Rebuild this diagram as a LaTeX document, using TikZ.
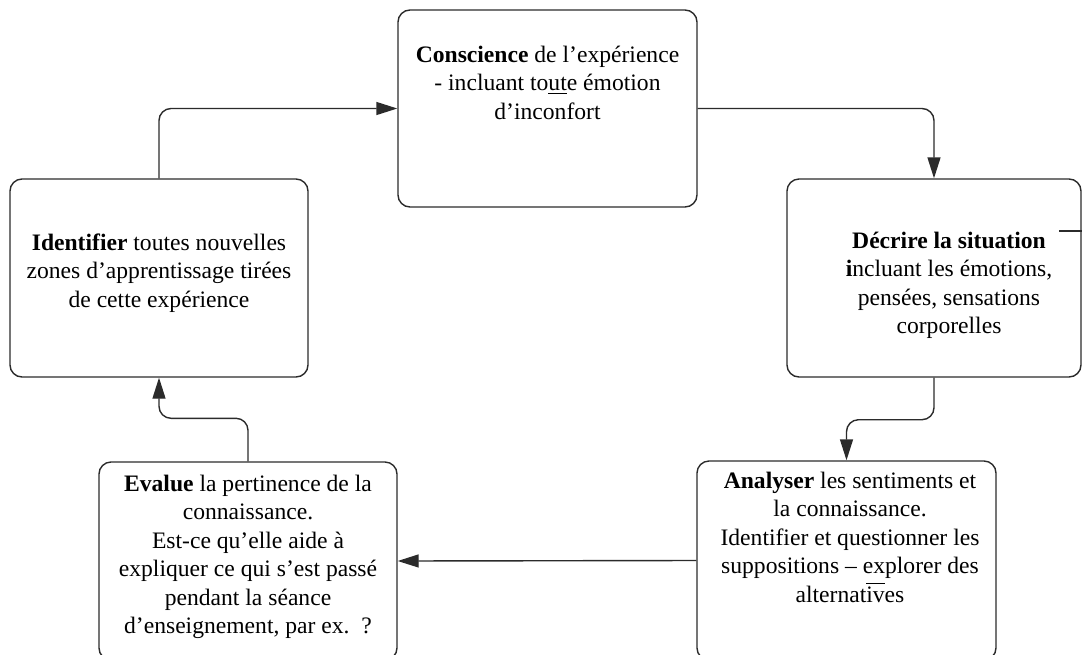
\documentclass[tikz,border=0pt]{standalone}
\usepackage{fontspec}
\setmainfont{Liberation Serif}
\usetikzlibrary{arrows.meta, positioning}
\definecolor{inkline}{HTML}{2B2B2B}

\begin{document}
\begin{tikzpicture}[x=0.5pt, y=-0.5pt,
    font=\fontsize{11.8}{14.25}\selectfont,
    stage/.style={draw=inkline, line width=0.7pt, rounded corners=6pt,
                  inner sep=0pt},
    stagetext/.style={align=center, inner sep=0pt, anchor=north},
    flow/.style={-{Triangle[length=10.5pt, width=6.5pt]}, draw=inkline,
                 line width=0.7pt, rounded corners=6pt}]
  \useasboundingbox (0,0) rectangle (1082,654);
  \clip (0,0) rectangle (1082,654);
  % the five boxes
  \node[stage, minimum width=149.5pt, minimum height=98.5pt] (consc) at (547.5,108.5) {};
  \node[stage, minimum width=147pt, minimum height=99pt] (decr) at (934,278) {};
  \node[stage, minimum width=149pt, minimum height=99pt] (ident) at (159,278) {};
  \node[stage, minimum width=149pt, minimum height=99pt] (eval) at (248,561) {};
  \node[stage, minimum width=149.5pt, minimum height=99.5pt] (analy) at (846.5,560.5) {};
  % their texts
  \node[stagetext, below=18pt of consc.north] (consctxt)
    {\textbf{Conscience} de l’expérience\\
     - incluant to\underline{ut}e émotion\\
     d’inconfort};
  \node[stagetext, below=26.5pt of decr.north, xshift=7.5pt] (decrtxt)
    {\textbf{Décrire la situation}\\
     \textbf{i}ncluant les émotions,\\
     pensées, sensations\\
     corporelles};
  \node[stagetext, below=27.5pt of ident.north] (identtxt)
    {\textbf{Identifier} toutes nouvelles\\
     zones d’apprentissage tirées\\
     de cette expérience};
  \node[stagetext, below=5.5pt of analy.north, xshift=1.75pt] (analytxt)
    {\textbf{Analyser} les sentiments et\\
     la connaissance.\\
     Identifier et questionner les\\
     suppositions – explorer des\\
     alternat$\overline{\hbox{iv}}$es};
  \node[stagetext, below=6.5pt of eval.north] (evaltxt)
    {\textbf{Evalue} la pertinence de la\\
     connaissance.\\
     Est-ce qu’elle aide à\\
     expliquer ce qui s’est passé\\
     pendant la séance\\
     d’enseignement, par ex.\ \ ?};
  % the cycle
  \draw[flow] (ident.north) |- (consc.west);
  \draw[flow] (consc.east) -| (decr.north);
  \draw[flow] (decr.south) -- ++(0,42) -| (analy.north);
  \draw[flow] (analy.west) -- (eval.east);
  \draw[flow] (eval.north) -- ++(0,-43) -| (ident.south);
  \draw[inkline, line width=0.7pt] ([yshift=23.5pt]decr.east) -- ++(-23,0);
\end{tikzpicture}
\end{document}
